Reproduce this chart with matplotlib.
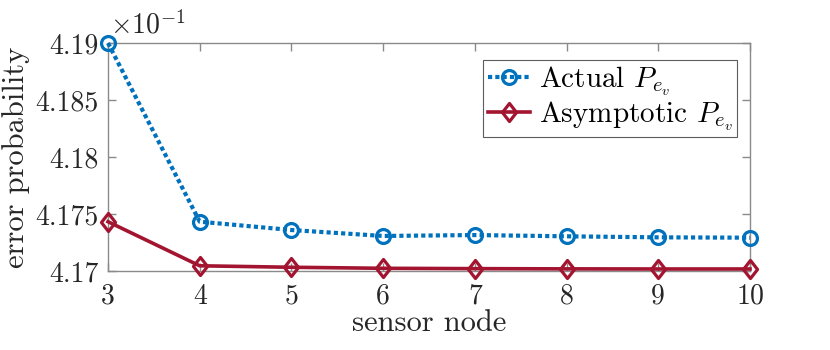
import matplotlib
matplotlib.use("Agg")
import matplotlib.pyplot as plt
from matplotlib.path import Path

nodes = [3, 4, 5, 6, 7, 8, 9, 10]
actual = [4.1900, 4.17436, 4.17363, 4.17311, 4.17319, 4.17308, 4.17299, 4.17296]
asymptotic = [4.17436, 4.1705, 4.17037, 4.17028, 4.17025, 4.17023, 4.17022, 4.17022]
yticks = [4.17, 4.175, 4.18, 4.185, 4.19]
ytick_labels = ["4.17", "4.175", "4.18", "4.185", "4.19"]

plt.rcParams['font.family'] = 'serif'
plt.rcParams['font.serif'] = ['cmr10', 'DejaVu Serif']
plt.rcParams['mathtext.fontset'] = 'cm'
plt.rcParams['axes.unicode_minus'] = False

tick_fs = 20
label_fs = 22
leg_fs = 21
txt = '#262626'

fig = plt.figure(figsize=(8.3, 3.5), dpi=100)
ax = fig.add_axes([0.1301, 0.2243, 0.7735, 0.6528])

blue = '#0072BD'
red = '#A2142F'
diamond = Path([(0, 1), (0.78, 0), (0, -1), (-0.78, 0), (0, 1)],
               [Path.MOVETO, Path.LINETO, Path.LINETO, Path.LINETO, Path.CLOSEPOLY])

ax.plot(nodes, actual, linestyle=(0, (1.0, 0.75)), color=blue, linewidth=3.0, marker='o',
        markersize=10, markerfacecolor='none', markeredgewidth=2.3,
        label=r'Actual $P_{e_v}$', clip_on=False, zorder=3)
ax.plot(nodes, asymptotic, linestyle='-', color=red, linewidth=2.6, marker=diamond,
        markersize=13, markerfacecolor='none', markeredgewidth=2.3,
        label=r'Asymptotic $P_{e_v}$', clip_on=False, zorder=3)

ax.set_xlim(3, 10)
ax.set_ylim(4.17, 4.19)
ax.set_xticks(nodes)
ax.set_xticklabels([str(n) for n in nodes])
ax.set_yticks(yticks)
ax.set_yticklabels(ytick_labels)
ax.tick_params(direction='in', top=True, right=True, labelsize=tick_fs, length=6,
               color='#8a8a8a', width=1.0)
ax.tick_params(axis='x', pad=8.5)
ax.tick_params(axis='y', pad=6.5)
for s in ax.spines.values():
    s.set_color('#8a8a8a')
    s.set_linewidth(1.0)
for lbl in ax.get_xticklabels() + ax.get_yticklabels():
    lbl.set_color(txt)

ax.set_xlabel('sensor node', fontsize=label_fs, color=txt, labelpad=0)
ax.set_ylabel('error probability', fontsize=label_fs, color=txt, labelpad=4)
ax.text(0.003, 1.015, r'$\times 10^{-1}$', transform=ax.transAxes, fontsize=tick_fs,
        color=txt, ha='left', va='bottom')

leg = ax.legend(loc='upper right', fontsize=leg_fs, frameon=True, fancybox=False,
                edgecolor='#333333', handlelength=1.45, handletextpad=0.3,
                borderpad=0.15, labelspacing=0.05, borderaxespad=0.0,
                bbox_to_anchor=(0.980, 0.9256))
leg.get_frame().set_linewidth(0.8)

fig.savefig('out.png', dpi=100)
